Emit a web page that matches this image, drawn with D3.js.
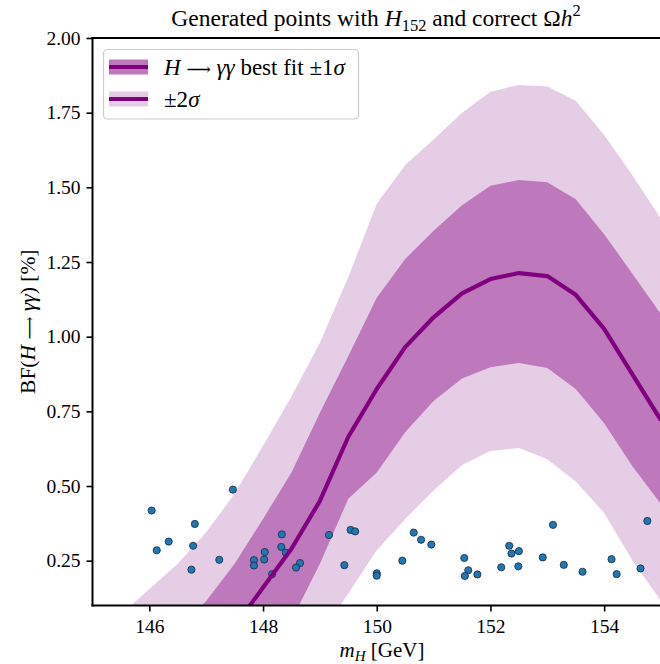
<!DOCTYPE html>
<html><head><meta charset="utf-8">
<script src="https://cdn.jsdelivr.net/npm/d3@7"></script>
<style>html,body{margin:0;padding:0;background:#fff;} svg{display:block;font-family:"Liberation Serif","DejaVu Serif",serif;}</style>
</head><body><svg id="c" width="660" height="664"></svg>
<script>
// ---- data ----
const masses   = [145,145.5,146,146.5,147,147.5,148,148.5,149,149.5,150,150.5,151,151.5,152,152.5,153,153.5,154,154.5,155];
const bestFit  = [-0.5,-0.38,-0.27,-0.16,-0.07,0.03,0.16,0.29,0.45,0.665,0.825,0.965,1.065,1.145,1.193,1.213,1.203,1.14,1.026,0.873,0.72];
const sig1Up   = [-0.25,-0.15,-0.05,0.02,0.115,0.24,0.39,0.545,0.745,0.935,1.13,1.26,1.355,1.44,1.505,1.525,1.517,1.46,1.343,1.21,1.075];
const sig1Down = [-1.0,-0.85,-0.7,-0.55,-0.4,-0.25,-0.1,0.05,0.24,0.457,0.545,0.68,0.785,0.86,0.898,0.912,0.895,0.825,0.71,0.565,0.44];
const sig2Up   = [0.0,0.07,0.155,0.24,0.345,0.475,0.635,0.80,0.98,1.20,1.445,1.575,1.66,1.75,1.82,1.843,1.838,1.79,1.675,1.54,1.395];
const sig2Down = [-1.4,-1.25,-1.1,-0.95,-0.8,-0.6,-0.4,-0.2,0.0,0.14,0.285,0.39,0.485,0.57,0.617,0.627,0.59,0.515,0.41,0.25,0.115];
const pointsX = [146.04,146.13,146.34,146.80,146.77,146.74,147.23,147.47,147.84,147.84,148.03,148.02,148.33,148.32,148.40,148.16,148.65,148.58,149.16,149.43,149.54,149.62,150.0,150.0,150.45,150.65,150.78,150.96,151.54,151.61,151.55,151.77,152.19,152.33,152.37,152.50,152.49,152.92,153.10,153.29,153.62,154.13,154.22,154.64,154.76];
const pointsY = [0.418,0.285,0.314,0.373,0.300,0.220,0.253,0.488,0.252,0.234,0.279,0.254,0.338,0.296,0.277,0.205,0.242,0.227,0.336,0.235,0.353,0.348,0.208,0.200,0.250,0.344,0.320,0.304,0.259,0.218,0.199,0.204,0.228,0.300,0.274,0.282,0.231,0.261,0.370,0.236,0.213,0.255,0.205,0.224,0.383];
const xTicks = [146,148,150,152,154];
const yTicks = [0.25,0.50,0.75,1.00,1.25,1.50,1.75,2.00];

const colDark = "#bd79bc", colLight = "#e6cde6", colLine = "#800080";

const svg = d3.select("#c");
const L = 92.5, R = 661, T = 38, B = 605.5;
const x = d3.scaleLinear().domain([145,155]).range([L,R]);
const y = d3.scaleLinear().domain([0.1,2.0]).range([B,T]);

svg.append("defs").append("clipPath").attr("id","clip")
  .append("rect").attr("x",L).attr("y",T).attr("width",R-L).attr("height",B-T);
const g = svg.append("g").attr("clip-path","url(#clip)");

const idx = masses.map((_,i)=>i);
const band = (lo,hi)=>d3.area().x(i=>x(masses[i])).y0(i=>y(lo[i])).y1(i=>y(hi[i]));
g.append("path").attr("d",band(sig2Down,sig2Up)(idx)).attr("fill",colLight);
g.append("path").attr("d",band(sig1Down,sig1Up)(idx)).attr("fill",colDark);

g.selectAll("circle").data(pointsX.map((v,i)=>[v,pointsY[i]])).enter().append("circle")
  .attr("cx",d=>x(d[0])).attr("cy",d=>y(d[1])).attr("r",3.6)
  .attr("fill","#1f77b4").attr("stroke","#1a2a3a").attr("stroke-width",0.8);

g.append("path").attr("d",d3.line().x(i=>x(masses[i])).y(i=>y(bestFit[i]))(idx))
  .attr("fill","none").attr("stroke",colLine).attr("stroke-width",4.2).attr("stroke-linejoin","round");

// axes
const xa = svg.append("g").attr("transform",`translate(0,${B})`)
  .call(d3.axisBottom(x).tickValues(xTicks).tickFormat(d3.format("d")).tickSize(6).tickSizeOuter(0));
const ya = svg.append("g").attr("transform",`translate(${L},0)`)
  .call(d3.axisLeft(y).tickValues(yTicks).tickFormat(d3.format(".2f")).tickSize(6).tickSizeOuter(0));
[xa,ya].forEach(a=>{
  a.attr("font-family",null);
  a.selectAll("path.domain").remove();
  a.selectAll("line").attr("stroke","#000").attr("stroke-width",1.6);
  a.selectAll("text").attr("font-family","Liberation Serif, serif").attr("font-size",19.5).attr("fill","#000");
});
xa.selectAll("text").attr("dy","0.95em");
ya.selectAll("text").attr("dx","-0.15em");
// spines
svg.append("line").attr("x1",L).attr("x2",L).attr("y1",T-1).attr("y2",B+1).attr("stroke","#000").attr("stroke-width",2);
svg.append("line").attr("x1",L-1).attr("x2",R).attr("y1",B).attr("y2",B).attr("stroke","#000").attr("stroke-width",2);
svg.append("line").attr("x1",L-1).attr("x2",R).attr("y1",T).attr("y2",T).attr("stroke","#000").attr("stroke-width",2);
svg.append("line").attr("x1",R).attr("x2",R).attr("y1",T).attr("y2",B).attr("stroke","#000").attr("stroke-width",2);

// title
const title = svg.append("text").attr("x",376).attr("y",26).attr("text-anchor","middle").attr("font-size",23.5);
title.append("tspan").text("Generated points with ");
title.append("tspan").attr("font-style","italic").text("H");
title.append("tspan").attr("font-size",16.5).attr("dy",5).text("152");
title.append("tspan").attr("dy",-5).text(" and correct Ω");
title.append("tspan").attr("font-style","italic").text("h");
title.append("tspan").attr("font-size",16.5).attr("dy",-10).text("2");

// x label
const xl = svg.append("text").attr("x",382).attr("y",657).attr("text-anchor","middle").attr("font-size",21);
xl.append("tspan").attr("font-style","italic").text("m");
xl.append("tspan").attr("font-style","italic").attr("font-size",15).attr("dy",3.5).text("H");
xl.append("tspan").attr("dy",-3.5).text(" [GeV]");

// y label
const yl = svg.append("text").attr("transform",`translate(35,${(T+B)/2}) rotate(-90)`).attr("text-anchor","middle").attr("font-size",21.5);
yl.append("tspan").text("BF(");
yl.append("tspan").attr("font-style","italic").text("H");
yl.append("tspan").text(" ");
yl.append("tspan").attr("font-size",16).text("⟶");
yl.append("tspan").text(" ");
yl.append("tspan").attr("font-style","italic").text("γγ");
yl.append("tspan").text(") [%]");

// legend
const lg = svg.append("g");
lg.append("rect").attr("x",103.5).attr("y",49.5).attr("width",255).attr("height",69.5).attr("rx",4)
  .attr("fill","#fff").attr("fill-opacity",0.8).attr("stroke","#cccccc").attr("stroke-width",1.2);
const rows = [{c:colDark,y:67},{c:colLight,y:99}];
rows.forEach(r=>{
  lg.append("rect").attr("x",109).attr("y",r.y-7.5).attr("width",39).attr("height",15).attr("fill",r.c);
  lg.append("line").attr("x1",109).attr("x2",148).attr("y1",r.y).attr("y2",r.y).attr("stroke",colLine).attr("stroke-width",4.2);
});
const t1 = lg.append("text").attr("x",164).attr("y",75).attr("font-size",23);
t1.append("tspan").attr("font-style","italic").text("H");
t1.append("tspan").text(" ");
t1.append("tspan").attr("font-size",17).text("⟶");
t1.append("tspan").text(" ");
t1.append("tspan").attr("font-style","italic").text("γγ");
t1.append("tspan").text(" best fit ±1");
t1.append("tspan").attr("font-style","italic").text("σ");
const t2 = lg.append("text").attr("x",164).attr("y",107).attr("font-size",23);
t2.append("tspan").text("±2");
t2.append("tspan").attr("font-style","italic").text("σ");
</script></body></html>
